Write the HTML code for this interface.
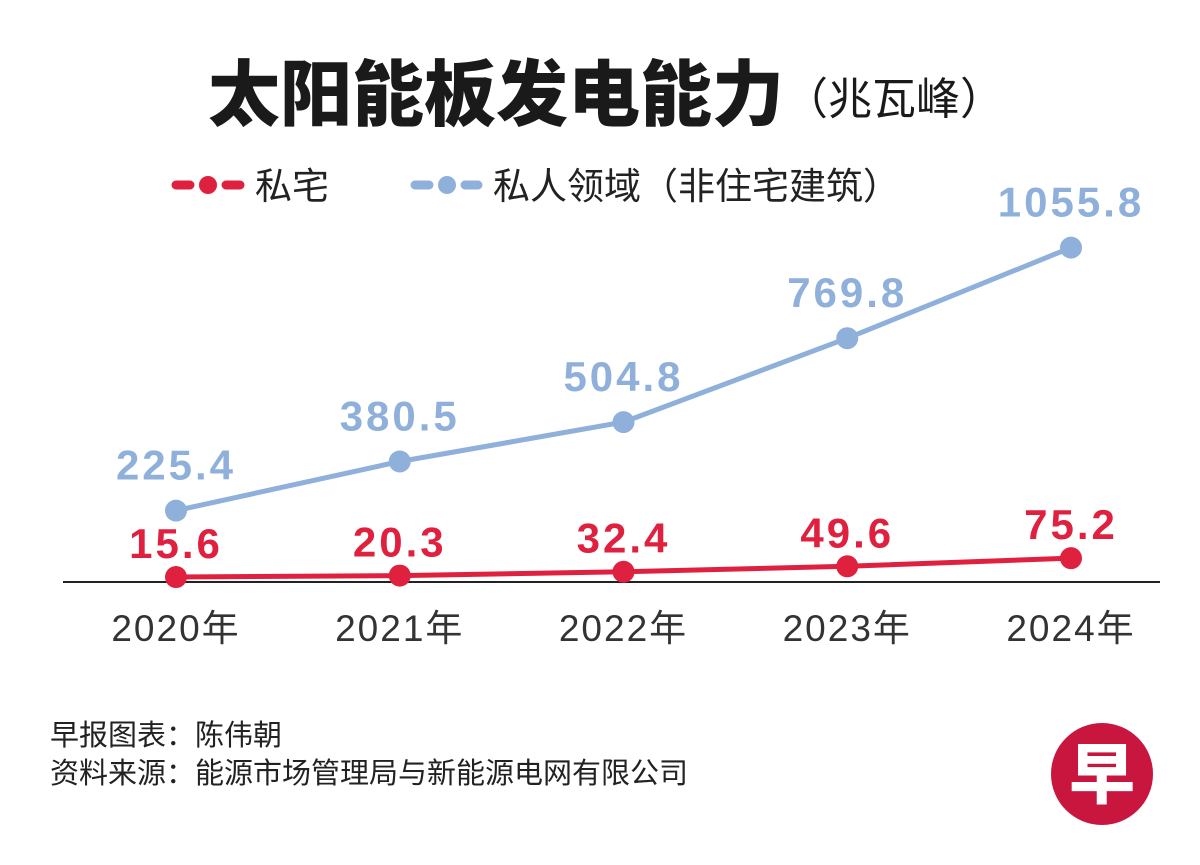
<!DOCTYPE html>
<html><head><meta charset="utf-8"><style>
body{margin:0;background:#fff;width:1200px;height:860px;overflow:hidden;font-family:"Liberation Sans","Noto Sans CJK SC",sans-serif}
</style></head><body>
<svg width="1200" height="860" xmlns="http://www.w3.org/2000/svg" font-family="Liberation Sans, Noto Sans CJK SC, sans-serif">
<text x="208" y="120" font-size="72" font-weight="900" fill="#1a1a1a">太阳能板发电能力<tspan font-size="44" font-weight="400" dy="-6">（兆瓦峰）</tspan></text>
<g>
<line x1="176" y1="185" x2="240" y2="185" stroke="#e0203f" stroke-width="9" stroke-linecap="round" stroke-dasharray="14 36"/>
<circle cx="208" cy="185" r="9" fill="#e0203f"/>
<text x="255" y="199" font-size="37" fill="#222">私宅</text>
<line x1="415" y1="185" x2="478" y2="185" stroke="#8fb0da" stroke-width="9" stroke-linecap="round" stroke-dasharray="14 36"/>
<circle cx="447" cy="185" r="9" fill="#8fb0da"/>
<text x="493" y="199" font-size="37" fill="#222">私人领域（非住宅建筑）</text>
</g>
<line x1="63" y1="582" x2="1160" y2="582" stroke="#222" stroke-width="2"/>
<g id="plot"></g>
<text x="50" y="745" font-size="29" fill="#222">早报图表：陈伟朝</text>
<text x="50" y="783" font-size="29" fill="#222">资料来源：能源市场管理局与新能源电网有限公司</text>
<g>
<circle cx="1102" cy="774" r="51" fill="#c8163f"/>
<text x="1102" y="798" font-size="66" font-weight="900" fill="#fff" text-anchor="middle">早</text>
</g>
</svg>
<script>
const years=["2020年","2021年","2022年","2023年","2024年"];
const privateHousing=[15.6,20.3,32.4,49.6,75.2];
const privateSector=[225.4,380.5,504.8,769.8,1055.8];
const NS="http://www.w3.org/2000/svg";
const g=document.getElementById('plot');
const xs=i=>176+i*223.75;
const ys=v=>582-v*0.3167;
function mk(t,a){const e=document.createElementNS(NS,t);for(const k in a)e.setAttribute(k,a[k]);g.appendChild(e);return e;}
function series(data,color,name,off){
  const l=mk('polyline',{points:data.map((v,i)=>xs(i)+','+ys(v)).join(' '),fill:'none',stroke:color,'stroke-width':5});
  
  
  data.forEach((v,i)=>{
    const c=mk('circle',{cx:xs(i),cy:ys(v),r:11,fill:color});
    
    
    const t=mk('text',{x:xs(i),y:ys(v)-off,'font-size':42,'font-weight':'bold',fill:color,'text-anchor':'middle','letter-spacing':3});
    t.textContent=v.toFixed(1);
    
    
  });
}
series(privateSector,'#8fb0da','private-sector',31);
series(privateHousing,'#e0203f','private-housing',19);
years.forEach((y,i)=>{
  const t=mk('text',{x:xs(i),y:641,'font-size':37,fill:'#333','text-anchor':'middle','letter-spacing':2});
  t.textContent=y;
  
  
});
</script>
</body></html>
